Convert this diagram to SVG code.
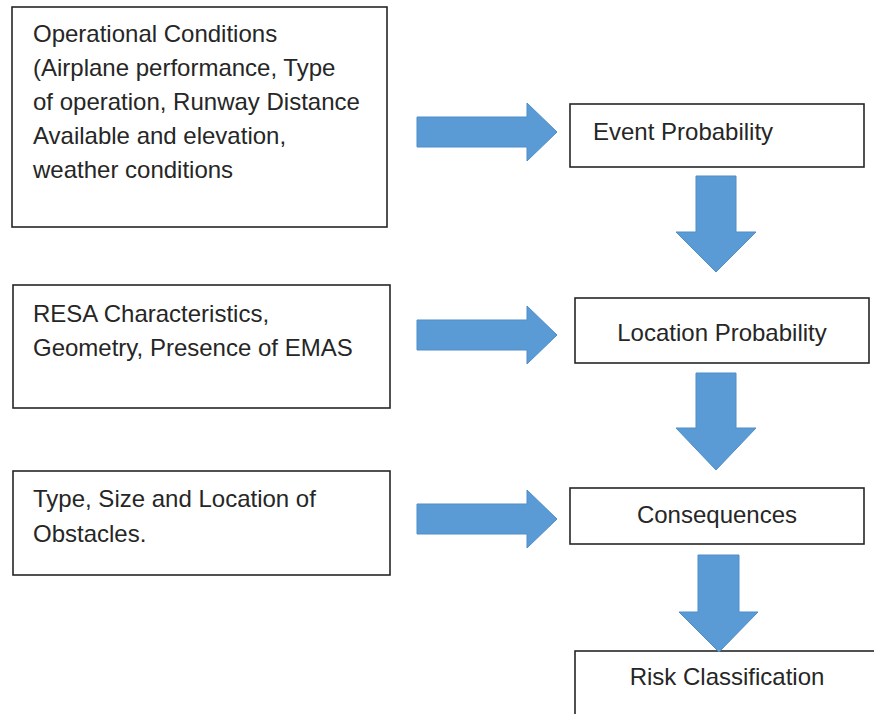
<svg xmlns="http://www.w3.org/2000/svg" width="874" height="714" viewBox="0 0 874 714">
<style>
.box{fill:#ffffff;stroke:#262626;stroke-width:1.6}
.t{font-family:"Liberation Sans",Arial,sans-serif;font-size:24px;fill:#262626}
.c{text-anchor:middle}
.arr{fill:#5B9BD5;stroke:#4F8DC9;stroke-width:1}
</style>
<rect width="874" height="714" fill="#ffffff"/>
<g id="operational-conditions">
<rect class="box" x="12" y="7" width="375" height="220"/>
<text class="t" x="33" y="42">Operational Conditions</text>
<text class="t" x="33" y="76">(Airplane performance, Type</text>
<text class="t" x="33" y="110">of operation, Runway Distance</text>
<text class="t" x="33" y="144">Available and elevation,</text>
<text class="t" x="33" y="178">weather conditions</text>
</g>
<g id="resa-characteristics">
<rect class="box" x="13" y="285" width="377" height="123"/>
<text class="t" x="33" y="322">RESA Characteristics,</text>
<text class="t" x="33" y="356">Geometry, Presence of EMAS</text>
</g>
<g id="obstacles">
<rect class="box" x="13" y="471" width="377" height="104"/>
<text class="t" x="33" y="507">Type, Size and Location of</text>
<text class="t" x="33" y="542">Obstacles.</text>
</g>
<g id="event-probability">
<rect class="box" x="570" y="104" width="294" height="63"/>
<text class="t" x="593" y="140">Event Probability</text>
</g>
<g id="location-probability">
<rect class="box" x="575" y="298" width="294" height="65"/>
<text class="t c" x="722" y="341">Location Probability</text>
</g>
<g id="consequences">
<rect class="box" x="570" y="488" width="294" height="56"/>
<text class="t c" x="717" y="523">Consequences</text>
</g>
<g id="risk-classification">
<rect class="box" x="575" y="651" width="320" height="80"/>
<text class="t c" x="727" y="685">Risk Classification</text>
</g>
<g id="connectors">
<polygon class="arr" points="417,117 527,117 527,103 557,132 527,161 527,147 417,147"/>
<polygon class="arr" points="417,320 527,320 527,306 557,335 527,364 527,350 417,350"/>
<polygon class="arr" points="417,504 527,504 527,490 557,519 527,548 527,534 417,534"/>
<polygon class="arr" points="696,176 736,176 736,232 756,232 716,272 676,232 696,232"/>
<polygon class="arr" points="696,373 736,373 736,428 756,428 716,470 676,428 696,428"/>
<polygon class="arr" points="698,555 739,555 739,612 758,612 719,652 679,612 698,612"/>
</g>
</svg>
